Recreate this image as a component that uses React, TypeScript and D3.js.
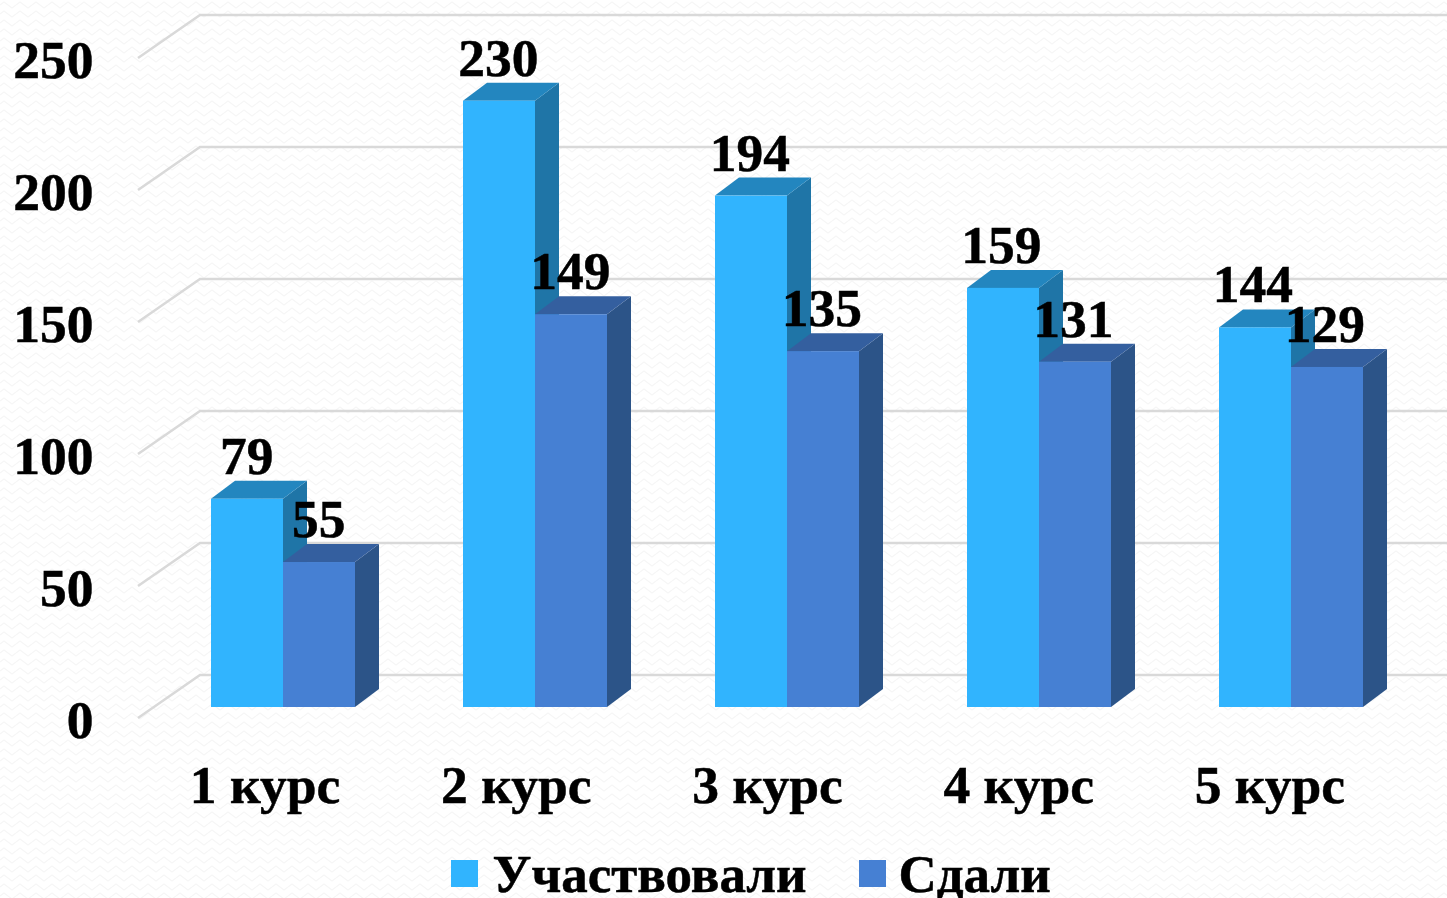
import React from 'react';
import * as d3 from 'd3';

const categories = ['1 курс', '2 курс', '3 курс', '4 курс', '5 курс'];
const participated = [79, 230, 194, 159, 144];
const passed = [55, 149, 135, 131, 129];
const yTicks = [0, 50, 100, 150, 200, 250];
const seriesNames = ['Участвовали', 'Сдали'];

const WIDTH = 1447;
const HEIGHT = 898;
const FONT = '"Liberation Serif", "Times New Roman", serif';

// front plane of the axis box, and how far back the wall sits
const frontLeft = 138;
const frontZero = 718;
const wallDx = 62;
const wallDy = 43;
// bars stand part way into the floor
const barBase = 707;
const barDx = 24;
const barDy = 18;

const palette = [
  { front: '#31B4FE', top: '#2386BF', side: '#1F75A7' },
  { front: '#4680D3', top: '#345F9F', side: '#2C5488' },
];

const yScale = d3.scaleLinear().domain([0, 250]).range([frontZero, frontZero - 660]);
const barY = d3.scaleLinear().domain([0, 250]).range([barBase, barBase - 659]);

const labelX = d3.scaleBand<string>().domain(categories).range([140, 140 + 1256]);
const groupX = d3.scaleBand<string>().domain(categories).range([157, 1417]);
// value labels drift slightly left of the bars in the original
const valueX = d3.scaleBand<string>().domain(categories).range([157, 157 + 1257.5]);
const seriesX = d3.scaleBand<number>().domain([0, 1]).range([0, 144]);

function Bar({ x, value, colors }: { x: number; value: number; colors: (typeof palette)[number] }) {
  const w = seriesX.bandwidth();
  const top = barY(value);
  const pts = (p: number[][]) => p.map(q => q.join(',')).join(' ');
  return (
    <g>
      <polygon
        fill={colors.side}
        points={pts([[x + w, top], [x + w + barDx, top - barDy], [x + w + barDx, barBase - barDy], [x + w, barBase]])}
      />
      <polygon
        fill={colors.top}
        points={pts([[x, top], [x + barDx, top - barDy], [x + w + barDx, top - barDy], [x + w, top]])}
      />
      <rect x={x} y={top} width={w} height={barBase - top} fill={colors.front} />
    </g>
  );
}

export default function App() {
  const groupStart = (c: string) => groupX(c)! + (groupX.bandwidth() - 144) / 2;
  const valueStart = (c: string) => valueX(c)! + (valueX.bandwidth() - 144) / 2;
  const series = [participated, passed];

  return (
    <svg
      width={WIDTH}
      height={HEIGHT}
      style={{ position: 'fixed', left: 0, top: 0, display: 'block' }}
      fontFamily={FONT}
      fontWeight="bold"
      fontSize={53.5}
      fill="#000"
    >
      <defs>
        <pattern id="paper" width="16" height="9" patternUnits="userSpaceOnUse">
          <path d="M0 5 L4 2 L8 5 L12 8 L16 5" fill="none" stroke="#f6f6f6" strokeWidth="1.2" />
        </pattern>
      </defs>
      <rect width={WIDTH} height={HEIGHT} fill="#fff" />
      <rect width={WIDTH} height={HEIGHT} fill="url(#paper)" />

      {/* back wall gridlines and floor/side diagonals */}
      <g stroke="#D9D9D9" strokeWidth={2.5} fill="none">
        {yTicks.map(t => (
          <path
            key={t}
            d={`M${frontLeft},${yScale(t)}L${frontLeft + wallDx},${yScale(t) - wallDy}L${WIDTH},${yScale(t) - wallDy}`}
          />
        ))}
      </g>

      <g stroke="#000" strokeWidth={0.5}>
        {yTicks.map(t => (
          <text key={t} x={93.5} y={yScale(t) + 20} textAnchor="end">
            {t}
          </text>
        ))}
      </g>

      {categories.map((c, i) => (
        <g key={c}>
          {series.map((s, k) => (
            <Bar key={k} x={groupStart(c) + seriesX(k)!} value={s[i]} colors={palette[k]} />
          ))}
        </g>
      ))}

      <g stroke="#000" strokeWidth={0.5}>
        {categories.map((c, i) =>
          series.map((s, k) => (
            <text
              key={k}
              x={valueStart(c) + seriesX(k)! + seriesX.bandwidth() / 2}
              y={barY(s[i]) - 25}
              textAnchor="middle"
            >
              {s[i]}
            </text>
          ))
        )}

        {categories.map(c => (
          <text key={c} x={labelX(c)! + labelX.bandwidth() / 2 - 0.5} y={803} textAnchor="middle">
            {c}
          </text>
        ))}

        <text x={492.5} y={892} fontSize={53}>{seriesNames[0]}</text>
        <text x={898.5} y={892} fontSize={53}>{seriesNames[1]}</text>
      </g>

      <rect x={451} y={860} width={27} height={27} fill={palette[0].front} />
      <rect x={859} y={860} width={27} height={27} fill={palette[1].front} />
    </svg>
  );
}
